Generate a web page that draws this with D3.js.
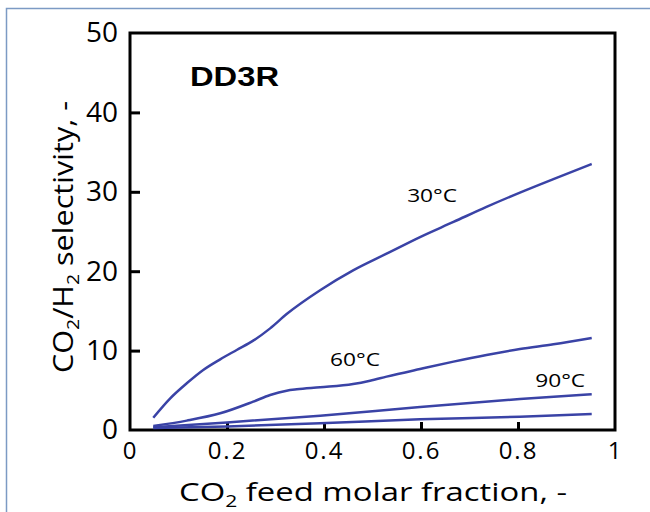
<!DOCTYPE html>
<html><head><meta charset="utf-8">
<script src="https://cdn.jsdelivr.net/npm/d3@7"></script>
<style>body{margin:0;background:#fff}svg{display:block}</style>
</head><body><svg id="c" width="650" height="512"></svg>
<script>
const xTicks = [0, 0.2, 0.4, 0.6, 0.8, 1];
const yTicks = [0, 10, 20, 30, 40, 50];
const x30 = [0.048, 0.083, 0.117, 0.151, 0.186, 0.220, 0.254, 0.289, 0.323, 0.392, 0.460, 0.529, 0.598, 0.667, 0.735, 0.804, 0.873, 0.952];
const y30 = [1.55, 3.99, 5.88, 7.56, 8.90, 10.08, 11.25, 12.8, 14.6, 17.6, 20.1, 22.2, 24.3, 26.2, 28.1, 29.9, 31.6, 33.5];
const x60 = [0.048, 0.117, 0.186, 0.254, 0.289, 0.323, 0.344, 0.392, 0.460, 0.495, 0.529, 0.598, 0.667, 0.735, 0.804, 0.873, 0.952];
const y60 = [0.50, 1.18, 2.1, 3.57, 4.41, 4.95, 5.12, 5.37, 5.79, 6.21, 6.72, 7.68, 8.61, 9.45, 10.2, 10.8, 11.6];
const x90 = [0.048, 0.2, 0.392, 0.598, 0.804, 0.952];
const y90 = [0.35, 0.95, 1.8, 2.9, 3.9, 4.5];
const x120 = [0.048, 0.2, 0.392, 0.598, 0.804, 0.952];
const y120 = [0.25, 0.45, 0.84, 1.35, 1.68, 2.0];
const curveLabels = ["30°C", "60°C", "90°C"];
const title = "DD3R";

const svg = d3.select("#c");
const X = d3.scaleLinear().domain([0, 1]).range([130, 615]);
const Y = d3.scaleLinear().domain([0, 50]).range([430, 33]);

// outer frame
svg.append("path").attr("d", "M6.5,512 V8.5 H650").attr("fill","none").attr("stroke","#7c9ac4").attr("stroke-width",1.5);

const font = "'Open Sans', sans-serif";
const col = "#3a43a6";

// plot frame
svg.append("rect").attr("x", X(0)).attr("y", Y(50)).attr("width", X(1)-X(0)).attr("height", Y(0)-Y(50))
  .attr("fill","none").attr("stroke","#000").attr("stroke-width",3);

// axes
const xa = svg.append("g").attr("transform", `translate(0,${Y(0)})`)
  .call(d3.axisBottom(X).tickValues(xTicks).tickSize(-8).tickPadding(12).tickFormat(d3.format("")));
xa.select(".domain").remove();
xa.selectAll(".tick line").attr("stroke","#000").attr("stroke-width",3).filter(d=>d===0||d===1).remove();
xa.selectAll("text").attr("font-family",font).attr("font-size",24).attr("letter-spacing",2).attr("fill","#000");

const ya = svg.append("g").attr("transform", `translate(${X(0)},0)`)
  .call(d3.axisLeft(Y).tickValues(yTicks).tickSize(-10).tickPadding(12).tickFormat(d3.format("")));
ya.select(".domain").remove();
ya.selectAll(".tick line").attr("stroke","#000").attr("stroke-width",3).filter(d=>d===0||d===50).remove();
ya.selectAll("text").attr("font-family",font).attr("font-size",28).attr("fill","#000");

// curves
const line = d3.line().x(d=>X(d[0])).y(d=>Y(d[1])).curve(d3.curveMonotoneX);
[[x30,y30],[x60,y60],[x90,y90],[x120,y120]].forEach(([xs,ys])=>{
  svg.append("path").datum(xs.map((v,i)=>[v,ys[i]])).attr("d", line)
    .attr("fill","none").attr("stroke",col).attr("stroke-width",2.5);
});

// labels
const lab = [[0.623, 28.7], [0.464, 8.0], [0.887, 5.4]];
curveLabels.forEach((t,i)=>{
  svg.append("text").attr("x", X(lab[i][0]) - 25).attr("y", Y(lab[i][1]))
    .attr("textLength", 50).attr("lengthAdjust","spacingAndGlyphs")
    .attr("font-family",font).attr("font-size",19).attr("fill","#000").text(t);
});
svg.append("text").attr("x", 190).attr("y", 86).attr("font-family","'Liberation Sans', Arial, sans-serif")
  .attr("textLength", 89).attr("lengthAdjust","spacingAndGlyphs")
  .attr("font-weight","bold").attr("font-size",27).attr("fill","#000").text(title);

// axis titles
const xt = svg.append("text").attr("x", 179).attr("y", 501)
  .attr("textLength", 388).attr("lengthAdjust","spacingAndGlyphs")
  .attr("font-family",font).attr("font-size",25).attr("fill","#000");
xt.append("tspan").text("CO");
xt.append("tspan").attr("font-size",16).attr("dy",6).text("2");
xt.append("tspan").attr("dy",-6).text(" feed molar fraction, -");

const yt = svg.append("text").attr("transform","translate(73,373) rotate(-90)")
  .attr("textLength", 272).attr("lengthAdjust","spacingAndGlyphs")
  .attr("font-family",font).attr("font-size",27).attr("fill","#000");
yt.append("tspan").text("CO");
yt.append("tspan").attr("font-size",17).attr("dy",6).text("2");
yt.append("tspan").attr("dy",-6).text("/H");
yt.append("tspan").attr("font-size",17).attr("dy",6).text("2");
yt.append("tspan").attr("dy",-6).text(" selectivity, -");
</script></body></html>
